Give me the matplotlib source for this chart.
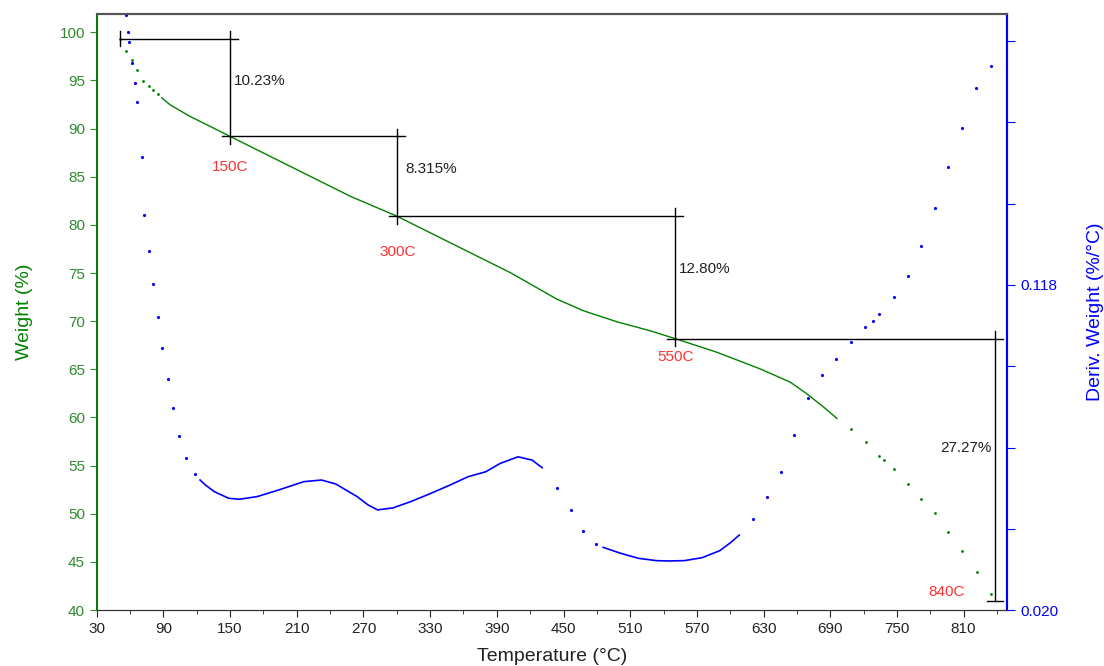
import matplotlib
matplotlib.use("Agg")
import matplotlib.pyplot as plt
from matplotlib.ticker import MultipleLocator, FixedLocator, FixedFormatter

plt.rcParams['font.family'] = ['Liberation Sans', 'DejaVu Sans']

# weight curve, dense part (line) and sparse ends (dots)
wt_temp_start = [50.7, 56.0, 61.5, 66.0, 72.0, 77.0, 81.0, 85.0]
wt_val_start = [99.3, 98.1, 97.1, 96.1, 94.9, 94.4, 94.0, 93.6]
wt_temp = [88.5, 96.0, 114.0, 132.0, 150.0, 186.0, 222.0, 258.0, 300.0,
           336.0, 372.0, 402.0, 423.0, 444.0, 468.0, 498.0, 528.0, 549.6,
           588.0, 627.0, 654.0, 669.0, 684.0, 696.0]
wt_val = [93.2, 92.47, 91.26, 90.23, 89.19, 87.12, 85.05, 82.98, 80.91,
          78.84, 76.77, 75.05, 73.67, 72.29, 71.08, 69.94, 69.0, 68.22,
          66.77, 65.04, 63.67, 62.45, 61.08, 59.9]
wt_temp_end = [708.3, 722.0, 733.7, 738.5, 747.1, 759.8, 771.9, 784.7,
               796.4, 808.8, 822.2, 834.9]
wt_val_end = [58.83, 57.45, 55.96, 55.55, 54.62, 53.14, 51.58, 50.03,
              48.14, 46.13, 43.92, 41.65]

# derivative curve, sparse dots and two dense stretches
dw_temp_a = [56.4, 58.4, 59.3, 61.5, 64.5, 66.5, 70.5, 72.8, 77.1, 80.9,
             84.9, 88.6, 93.7, 98.9, 103.7, 110.1, 118.1]
dw_val_a = [0.1994, 0.1944, 0.1913, 0.1848, 0.1788, 0.1731, 0.1567, 0.1391,
            0.1283, 0.1183, 0.1084, 0.0989, 0.0896, 0.0810, 0.0725, 0.0657,
            0.0610]
dw_temp_b = [123.0, 127.8, 135.8, 148.7, 158.3, 174.3, 193.7, 216.2, 232.2,
             245.1, 264.3, 274.1, 282.7, 296.6, 312.6, 328.7, 348.0, 364.1,
             380.1, 393.0, 409.1, 421.8, 430.8]
dw_val_b = [0.0592, 0.0577, 0.0557, 0.0537, 0.0534, 0.0542, 0.0562, 0.0587,
            0.0592, 0.0580, 0.0542, 0.0517, 0.0502, 0.0508, 0.0527, 0.0549,
            0.0577, 0.0602, 0.0617, 0.0642, 0.0662, 0.0652, 0.0629]
dw_temp_c = [443.7, 456.4, 467.6, 479.3]
dw_val_c = [0.0569, 0.0502, 0.0438, 0.0399]
dw_temp_d = [485.7, 501.6, 517.4, 533.4, 545.0, 558.8, 574.8, 590.6, 600.2,
             608.1]
dw_val_d = [0.0389, 0.0371, 0.0356, 0.0349, 0.0348, 0.0349, 0.0358, 0.0379,
            0.0403, 0.0426]
dw_temp_e = [620.2, 632.9, 645.6, 657.4, 670.2, 682.8, 695.6, 708.9, 721.5,
             728.1, 734.3, 747.3, 759.9, 771.6, 784.2, 795.9, 808.8, 821.4,
             834.2]
dw_val_e = [0.0476, 0.0542, 0.0617, 0.0728, 0.0840, 0.0909, 0.0957, 0.1009,
            0.1052, 0.1072, 0.1092, 0.1144, 0.1207, 0.1298, 0.1413, 0.1537,
            0.1652, 0.1775, 0.1840]

# step analysis
step_temp = [50.7, 150, 300, 550, 838]
step_weight = [99.35, 89.2, 80.91, 68.2, 40.95]
step_loss = ['10.23%', '8.315%', '12.80%', '27.27%']
step_names = ['150C', '300C', '550C', '840C']

green = '#008000'
tick_green = '#2e8b2e'
blue = '#0000ff'
red = '#ff3030'
dark = '#222222'

fig = plt.figure(figsize=(11.04, 6.66), dpi=100)
ax = fig.add_axes([0.0876, 0.084, 0.8245, 0.895])
ax2 = ax.twinx()

ax.plot(wt_temp, wt_val, color=green, lw=1.0, zorder=3)
ax.plot(wt_temp_start + wt_temp_end, wt_val_start + wt_val_end, ls='none',
        marker='.', ms=2, color=green, zorder=3)

ax2.plot(dw_temp_b, dw_val_b, color=blue, lw=1.2)
ax2.plot(dw_temp_d, dw_val_d, color=blue, lw=1.2)
ax2.plot(dw_temp_a + dw_temp_c + dw_temp_e, dw_val_a + dw_val_c + dw_val_e,
         ls='none', marker='.', ms=2.5, color=blue)

# step lines
ex, ey = 7.2, 0.8
k = dict(color='black', lw=1.0, zorder=4)
ax.plot([step_temp[0], step_temp[0]], [step_weight[0] + ey, step_weight[0] - ey], **k)
for i in range(4):
    x0 = step_temp[i] if i == 0 else step_temp[i] - ex
    ax.plot([x0, step_temp[i + 1] + ex], [step_weight[i], step_weight[i]], **k)
    ax.plot([step_temp[i + 1], step_temp[i + 1]],
            [step_weight[i] + ey, step_weight[i + 1] - (ey if i < 3 else 0)], **k)
ax.plot([step_temp[4] - ex, step_temp[4] + ex], [step_weight[4], step_weight[4]], **k)

fs = 11
ax.text(153, 94.96, step_loss[0], fontsize=fs, va='center', color=dark)
ax.text(307.5, 85.85, step_loss[1], fontsize=fs, va='center', color=dark)
ax.text(553.5, 75.4, step_loss[2], fontsize=fs, va='center', color=dark)
ax.text(835.5, 56.8, step_loss[3], fontsize=fs, va='center', ha='right', color=dark)

ax.text(150, 86.0, step_names[0], fontsize=fs, va='center', ha='center', color=red)
ax.text(300.9, 77.2, step_names[1], fontsize=fs, va='center', ha='center', color=red)
ax.text(550.5, 66.25, step_names[2], fontsize=fs, va='center', ha='center', color=red)
ax.text(795.0, 41.9, step_names[3], fontsize=fs, va='center', ha='center', color=red)

ax.set_xlim(30, 849)
ax.set_ylim(40, 101.9)
ax2.set_ylim(0.020, 0.1997)

ax.xaxis.set_major_locator(FixedLocator(list(range(30, 811, 60))))
ax.xaxis.set_minor_locator(FixedLocator(list(range(30, 841, 30))))
ax.yaxis.set_major_locator(MultipleLocator(5))
ax.tick_params(axis='x', which='major', length=5, labelsize=11, colors=dark)
ax.tick_params(axis='x', which='minor', length=3, colors=dark)
ax.tick_params(axis='y', length=5, labelsize=11, colors=tick_green)

r_ticks = [0.020 + 0.0245 * i for i in range(8)]
r_labels = ['0.020', '', '', '', '0.118', '', '', '']
ax2.yaxis.set_major_locator(FixedLocator(r_ticks))
ax2.yaxis.set_major_formatter(FixedFormatter(r_labels))
ax2.tick_params(axis='y', length=6, labelsize=11, colors=blue)

for a in (ax, ax2):
    a.spines['left'].set_color(green)
    a.spines['right'].set_color(blue)
    a.spines['right'].set_linewidth(1.5)
    a.spines['left'].set_linewidth(1.3)
    a.spines['top'].set_color('#555555')
    a.spines['top'].set_linewidth(1.5)
    a.spines['bottom'].set_color('#333333')

ax.set_xlabel('Temperature (°C)', fontsize=14, color=dark, labelpad=9)
ax.set_ylabel('Weight (%)', fontsize=14, color=green, labelpad=19)
ax2.set_ylabel('Deriv. Weight (%/°C)', fontsize=14, color=blue, labelpad=21)

fig.savefig('out.png', dpi=100)
